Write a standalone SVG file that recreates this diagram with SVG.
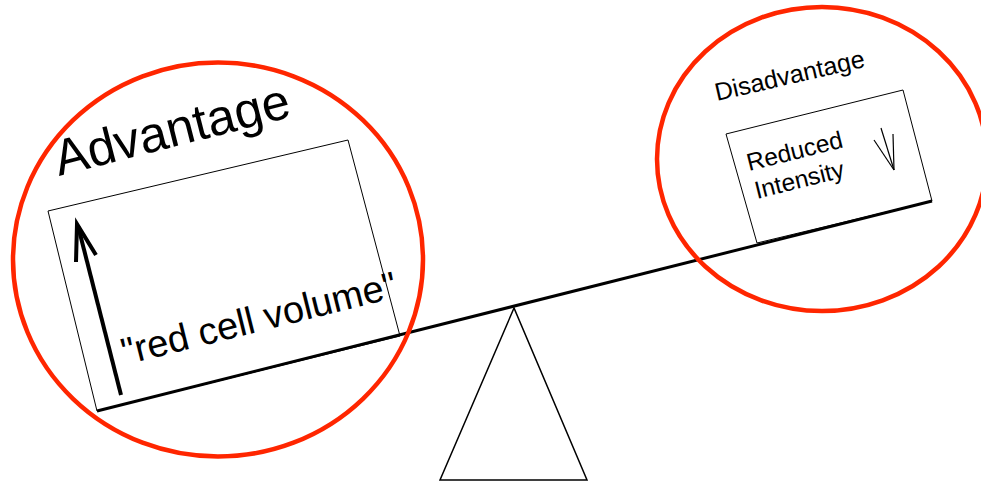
<svg xmlns="http://www.w3.org/2000/svg" width="981" height="482" viewBox="0 0 981 482">
<style>
.ring{fill:none;stroke:#ff2600;stroke-width:4.5}
.box{fill:none;stroke:#000;stroke-width:1}
.t{font-family:"Liberation Sans",Arial,sans-serif;fill:#000}
.thick{fill:none;stroke:#000;stroke-width:4;stroke-linecap:butt;stroke-linejoin:miter}
.thin{fill:none;stroke:#000;stroke-width:1.2}
</style>
<rect width="981" height="482" fill="#fff"/>
<g id="fulcrum">
<polygon points="514,308 440,480 587,480" fill="none" stroke="#000" stroke-width="1.5"/>
</g>
<g id="advantage">
<polygon class="box" points="97,411 48,211 348,140 400,336"/>
<text class="t" x="59" y="176" font-size="50.5" transform="rotate(-14.3 59 176)">Advantage</text>
<text class="t" x="125" y="365" font-size="38" transform="rotate(-14 125 365)">"red cell volume"</text>
<line class="thick" x1="121" y1="395" x2="78" y2="226"/>
<polyline class="thick" points="76,262 77,224 96,255"/>
</g>
<g id="disadvantage">
<polygon class="box" points="757,243 726,134 903,90 932,201"/>
<text class="t" x="717" y="101" font-size="25" transform="rotate(-13 717 101)">Disadvantage</text>
<text class="t" x="749" y="171" font-size="24.5" transform="rotate(-14 749 171)">Reduced<tspan x="750" dy="29">Intensity</tspan></text>
<line class="thin" x1="881" y1="128" x2="894" y2="170"/>
<line class="thin" x1="874" y1="140" x2="894" y2="170"/>
<line class="thin" x1="893" y1="134" x2="894" y2="170"/>
</g>
<g id="connectors">
<line x1="97" y1="411" x2="932" y2="201" stroke="#000" stroke-width="3"/>
</g>
<g id="rings">
<ellipse class="ring" cx="218" cy="259.5" rx="205" ry="197"/>
<ellipse class="ring" cx="822" cy="159" rx="165" ry="152"/>
</g>
</svg>
